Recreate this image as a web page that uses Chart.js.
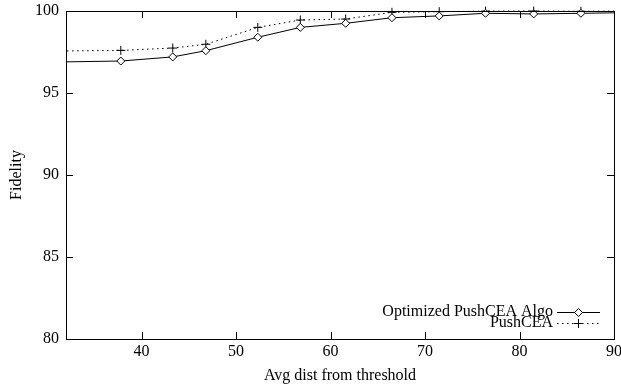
<!DOCTYPE html>
<html>
<head>
<meta charset="utf-8">
<script src="https://cdn.jsdelivr.net/npm/chart.js@4/dist/chart.umd.min.js"></script>
<style>
  html, body { margin: 0; padding: 0; background: #fff; }
  #wrap { width: 621px; height: 385px; }
</style>
</head>
<body>
<div id="wrap"><canvas id="fid"></canvas></div>
<script>
// values (points at 30 and 91.5 lie outside the plot and are clipped)
const distances = [30, 37.8, 43.3, 46.8, 52.3, 56.8, 61.6, 66.5, 71.5, 76.4, 81.5, 86.5, 91.5];
const optimized = [96.88, 96.95, 97.2, 97.58, 98.4, 99.0, 99.25, 99.59, 99.7, 99.86, 99.82, 99.86, 99.9];
const pushCEA = [97.55, 97.6, 97.74, 97.97, 99.0, 99.45, 99.51, 99.92, 99.96, 99.99, 100, 99.98, 100];
const xTicks = [40, 50, 60, 70, 80, 90];
const yTicks = [80, 85, 90, 95, 100];
const seriesNames = ["Optimized PushCEA Algo", "PushCEA"];

const FONT = "'Liberation Serif', 'Times New Roman', serif";

function toPoints(ys) {
  return distances.map((d, i) => ({ x: d, y: ys[i] }));
}

// gnuplot style box, inward ticks on all sides, key in the lower right
const gnuFrame = {
  id: "gnuFrame",
  afterDraw(chart) {
    const { ctx, chartArea: a, scales: { x, y } } = chart;
    ctx.save();
    ctx.strokeStyle = "#000";
    ctx.lineWidth = 1;
    ctx.setLineDash([]);
    ctx.strokeRect(a.left + 0.5, a.top + 0.5, a.right - a.left, a.bottom - a.top);

    ctx.beginPath();
    xTicks.forEach(v => {
      const px = Math.round(x.getPixelForValue(v)) + 0.5;
      ctx.moveTo(px, a.bottom); ctx.lineTo(px, a.bottom - 7);
      ctx.moveTo(px, a.top); ctx.lineTo(px, a.top + 7);
    });
    yTicks.forEach(v => {
      const py = Math.round(y.getPixelForValue(v)) + 0.5;
      ctx.moveTo(a.left, py); ctx.lineTo(a.left + 7, py);
      ctx.moveTo(a.right, py); ctx.lineTo(a.right - 7, py);
    });
    ctx.stroke();

    // key
    ctx.font = "16px " + FONT;
    ctx.fillStyle = "#000";
    ctx.textAlign = "right";
    ctx.textBaseline = "middle";
    const rows = [312, 323];
    chart.data.datasets.forEach((ds, i) => {
      const ry = rows[i];
      ctx.fillText(seriesNames[i], 553, ry);
      ctx.beginPath();
      ctx.setLineDash(ds.borderDash || []);
      ctx.moveTo(557, ry + 0.5);
      ctx.lineTo(600, ry + 0.5);
      ctx.stroke();
      ctx.setLineDash([]);
      const cx = 578.5, cy = ry + 0.5;
      ctx.beginPath();
      if (ds.pointStyle === "rectRot") {
        ctx.moveTo(cx, cy - 4); ctx.lineTo(cx + 4, cy);
        ctx.lineTo(cx, cy + 4); ctx.lineTo(cx - 4, cy);
        ctx.closePath();
        ctx.fillStyle = "#fff";
        ctx.fill();
        ctx.fillStyle = "#000";
      } else {
        ctx.moveTo(cx - 4.5, cy); ctx.lineTo(cx + 4.5, cy);
        ctx.moveTo(cx, cy - 4.5); ctx.lineTo(cx, cy + 4.5);
      }
      ctx.stroke();
    });
    ctx.restore();
  }
};

new Chart(document.getElementById("fid"), {
  type: "scatter",
  data: {
    datasets: [
      {
        label: seriesNames[0],
        data: toPoints(optimized),
        showLine: true,
        borderColor: "#000",
        borderWidth: 1,
        pointStyle: "rectRot",
        pointRadius: 4,
        pointBorderWidth: 1,
        pointBorderColor: "#000",
        pointBackgroundColor: "#fff",
        clip: { left: 0, right: 0, top: 6, bottom: 0 }
      },
      {
        label: seriesNames[1],
        data: toPoints(pushCEA),
        showLine: true,
        borderColor: "#000",
        borderWidth: 1,
        borderDash: [1.5, 3.5],
        pointStyle: "cross",
        pointRadius: 4.5,
        pointBorderWidth: 1,
        pointBorderColor: "#000",
        clip: { left: 0, right: 0, top: 6, bottom: 0 }
      }
    ]
  },
  options: {
    responsive: true,
    maintainAspectRatio: false,
    animation: false,
    events: [],
    layout: { padding: { left: 0, right: 7, top: 11, bottom: 0 } },
    plugins: {
      legend: { display: false },
      tooltip: { enabled: false }
    },
    scales: {
      x: {
        type: "linear",
        min: 32,
        max: 90,
        afterFit: s => { s.height = 46; s.paddingLeft = 0; s.paddingRight = 0; },
        afterBuildTicks: s => { s.ticks = xTicks.map(v => ({ value: v })); },
        grid: { display: false, drawTicks: false },
        border: { display: false },
        ticks: { padding: 3, color: "#000", font: { family: FONT, size: 16 } },
        title: {
          display: true,
          text: "Avg dist from threshold",
          color: "#000",
          padding: { top: 0, bottom: 0 },
          font: { family: FONT, size: 16 }
        }
      },
      y: {
        min: 80,
        max: 100,
        afterFit: s => { s.width = 66; s.paddingTop = 0; s.paddingBottom = 0; },
        afterBuildTicks: s => { s.ticks = yTicks.map(v => ({ value: v })); },
        grid: { display: false, drawTicks: false },
        border: { display: false },
        ticks: { padding: 7, color: "#000", font: { family: FONT, size: 16 } },
        title: {
          display: true,
          text: "Fidelity",
          color: "#000",
          padding: { top: 7, bottom: 0 },
          font: { family: FONT, size: 16 }
        }
      }
    }
  },
  plugins: [gnuFrame]
});
</script>
</body>
</html>
